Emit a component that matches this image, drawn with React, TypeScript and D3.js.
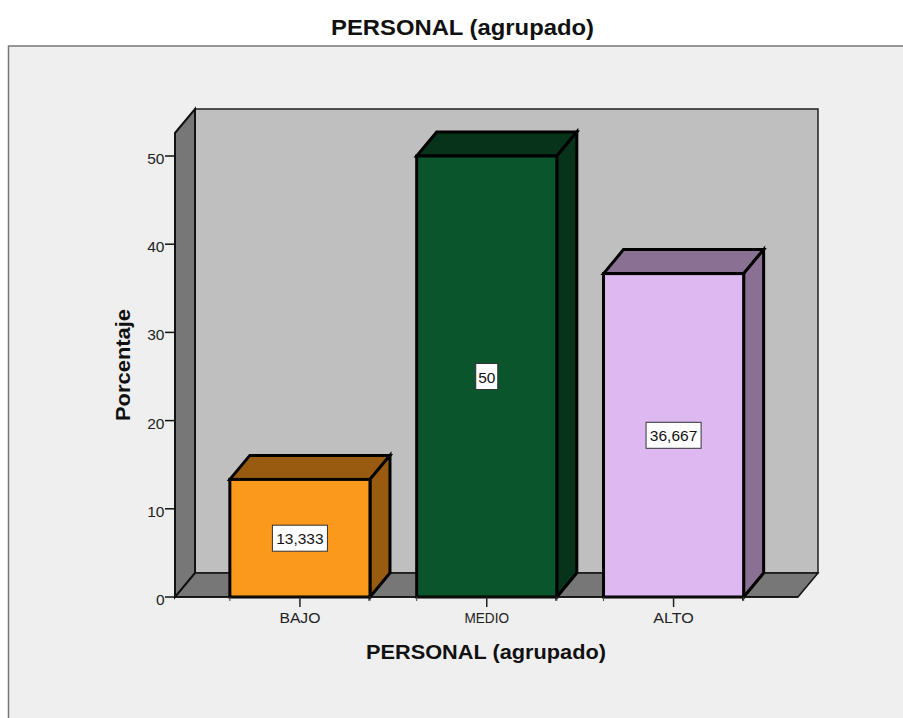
import React from "react";
import * as d3 from "d3";

const categories = ["BAJO", "MEDIO", "ALTO"];
const values = [13.333, 50, 36.667];
const valueLabels = ["13,333", "50", "36,667"];
const frontColors = ["#fa991c", "#0b552c", "#deb8f1"];
const sideColors = ["#985b10", "#063319", "#8a7093"];
const yTicks = [0, 10, 20, 30, 40, 50];

const width = 903;
const height = 718;
const depthX = 20;
const depthY = 24;
const font = "Liberation Sans, Arial, sans-serif";

// the original's tick labels are stretched unevenly, so fit each one
const categoryLabelWidths = [41, 44.5, 40.5];

const App = () => {
  const x = d3
    .scaleBand<string>()
    .domain(categories)
    .range([206.5, 767])
    .paddingInner(0.25)
    .paddingOuter(0.125);
  const y = d3.scaleLinear().domain([0, 50]).range([597, 156]);

  const plotLeft = 175;
  const plotRight = 798;
  const plotBottom = y(0);
  const plotTop = 133;

  const poly = (pts: [number, number][]) => `${d3.line()(pts)}Z`;

  return (
    <svg
      width={width}
      height={height}
      style={{ position: "absolute", left: 0, top: 0, display: "block" }}
      fontFamily={font}
    >
      <rect width={width} height={height} fill="#ffffff" />
      <rect x={8.5} y={46} width={width} height={height} fill="#efefef" stroke="#777777" strokeWidth={1.5} />
      <text
        x={462.5}
        y={35}
        textAnchor="middle"
        fontSize={21.5}
        fontWeight="bold"
        fill="#111111"
        textLength={263}
        lengthAdjust="spacingAndGlyphs"
      >
        PERSONAL (agrupado)
      </text>

      {/* back wall, side wall and floor */}
      <path
        d={poly([
          [plotLeft + depthX, plotTop - depthY],
          [plotRight + depthX, plotTop - depthY],
          [plotRight + depthX, plotBottom - depthY],
          [plotLeft + depthX, plotBottom - depthY],
        ])}
        fill="#bfbfbf"
        stroke="#222222"
        strokeWidth={1.5}
      />
      <path
        d={poly([
          [plotLeft, plotBottom],
          [plotLeft + depthX, plotBottom - depthY],
          [plotRight + depthX, plotBottom - depthY],
          [plotRight, plotBottom],
        ])}
        fill="#777777"
        stroke="#111111"
        strokeWidth={1.5}
      />
      <path
        d={poly([
          [plotLeft, plotTop],
          [plotLeft + depthX, plotTop - depthY],
          [plotLeft + depthX, plotBottom - depthY],
          [plotLeft, plotBottom],
        ])}
        fill="#777777"
        stroke="#111111"
        strokeWidth={2}
      />

      {/* y axis */}
      {yTicks.map((t) => (
        <g key={t}>
          <line x1={plotLeft - 10} x2={plotLeft} y1={y(t)} y2={y(t)} stroke="#111111" strokeWidth={1.5} />
          <text x={plotLeft - 10.5} y={y(t) + 8} textAnchor="end" fontSize={15.5} fill="#222222">
            {t}
          </text>
        </g>
      ))}
      <text
        transform="translate(130,365) rotate(-90)"
        textAnchor="middle"
        fontSize={20}
        fontWeight="bold"
        fill="#111111"
        textLength={112}
        lengthAdjust="spacingAndGlyphs"
      >
        Porcentaje
      </text>

      {/* bars */}
      {categories.map((c, i) => {
        const x0 = x(c) as number;
        const x1 = x0 + x.bandwidth();
        const top = y(values[i]);
        return (
          <g key={c} stroke="#000000" strokeWidth={3} strokeLinejoin="miter">
            <path
              d={poly([
                [x0, top],
                [x0 + depthX, top - depthY],
                [x1 + depthX, top - depthY],
                [x1, top],
              ])}
              fill={sideColors[i]}
            />
            <path
              d={poly([
                [x1, top],
                [x1 + depthX, top - depthY],
                [x1 + depthX, plotBottom - depthY],
                [x1, plotBottom],
              ])}
              fill={sideColors[i]}
            />
            <rect x={x0} y={top} width={x.bandwidth()} height={plotBottom - top} fill={frontColors[i]} />
          </g>
        );
      })}

      {/* x axis */}
      <line x1={plotLeft} x2={plotRight} y1={plotBottom} y2={plotBottom} stroke="#111111" strokeWidth={1.5} />
      {categories.map((c, i) => {
        const x0 = x(c) as number;
        const cx = x0 + x.bandwidth() / 2;
        return (
          <g key={c}>
            <line x1={cx} x2={cx} y1={plotBottom} y2={plotBottom + 10} stroke="#222222" strokeWidth={1.5} />
            <line x1={x0} x2={x0} y1={plotBottom} y2={plotBottom + 4} stroke="#444444" strokeWidth={1} />
            <line
              x1={x0 + x.bandwidth()}
              x2={x0 + x.bandwidth()}
              y1={plotBottom}
              y2={plotBottom + 4}
              stroke="#444444"
              strokeWidth={1}
            />
            <text
              x={cx}
              y={622.5}
              textAnchor="middle"
              fontSize={15.5}
              fill="#222222"
              textLength={categoryLabelWidths[i]}
              lengthAdjust="spacingAndGlyphs"
            >
              {c}
            </text>
          </g>
        );
      })}
      <text
        x={486}
        y={659}
        textAnchor="middle"
        fontSize={21}
        fontWeight="bold"
        fill="#111111"
        textLength={240}
        lengthAdjust="spacingAndGlyphs"
      >
        PERSONAL (agrupado)
      </text>

      {/* value labels */}
      {categories.map((c, i) => {
        const cx = (x(c) as number) + x.bandwidth() / 2;
        const cy = y(values[i] / 2);
        const w = valueLabels[i].length * 8.25 + 5.5;
        return (
          <g key={c}>
            <rect x={cx - w / 2} y={cy - 13} width={w} height={26} fill="#ffffff" stroke="#333333" strokeWidth={1} />
            <text x={cx} y={cy + 6} textAnchor="middle" fontSize={15.5} fill="#111111">
              {valueLabels[i]}
            </text>
          </g>
        );
      })}
    </svg>
  );
};

export default App;
